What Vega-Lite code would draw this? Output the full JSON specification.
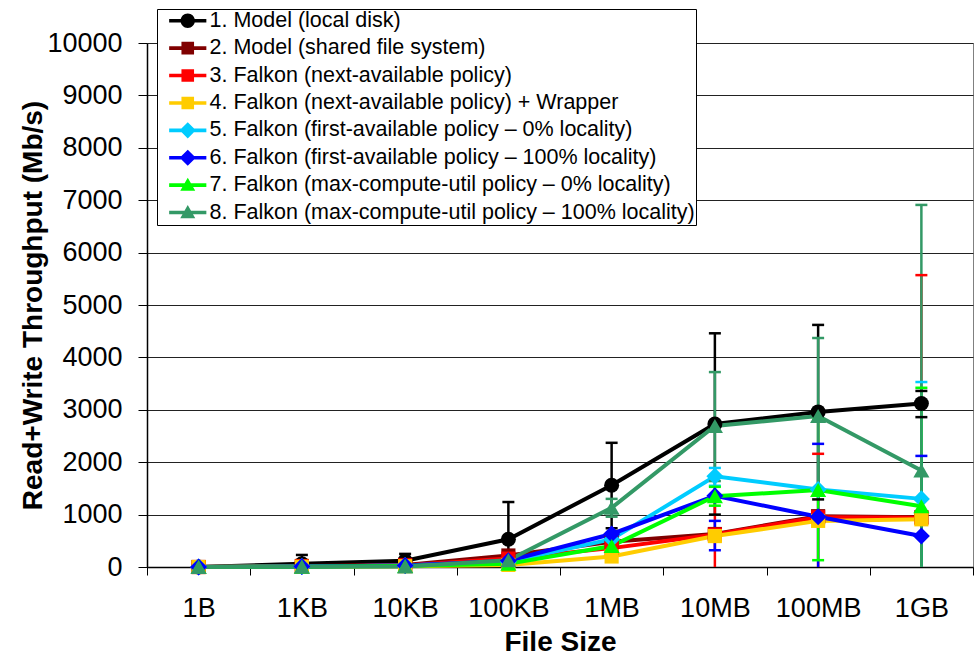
{
  "$schema": "https://vega.github.io/schema/vega-lite/v6.json",
  "width": 826,
  "height": 524,
  "autosize": {"type": "none"},
  "padding": {"left": 147, "top": 43, "right": 4, "bottom": 88},
  "background": "#ffffff",
  "config": {
    "font": "Liberation Sans",
    "view": {"stroke": "#808080", "strokeWidth": 1},
    "axis": {"domainColor": "#000000", "tickColor": "#000000", "labelColor": "#000000", "titleColor": "#000000", "labelFont": "Liberation Sans", "titleFont": "Liberation Sans"}
  },
  "datasets": {
    "pts": [
      {"series": "1. Model (local disk)", "size": "1B", "v": 0},
      {"series": "1. Model (local disk)", "size": "1KB", "v": 60},
      {"series": "1. Model (local disk)", "size": "10KB", "v": 120},
      {"series": "1. Model (local disk)", "size": "100KB", "v": 530},
      {"series": "1. Model (local disk)", "size": "1MB", "v": 1560},
      {"series": "1. Model (local disk)", "size": "10MB", "v": 2730},
      {"series": "1. Model (local disk)", "size": "100MB", "v": 2960},
      {"series": "1. Model (local disk)", "size": "1GB", "v": 3120},
      {"series": "2. Model (shared file system)", "size": "1B", "v": 0},
      {"series": "2. Model (shared file system)", "size": "1KB", "v": 20},
      {"series": "2. Model (shared file system)", "size": "10KB", "v": 40},
      {"series": "2. Model (shared file system)", "size": "100KB", "v": 220},
      {"series": "2. Model (shared file system)", "size": "1MB", "v": 480},
      {"series": "2. Model (shared file system)", "size": "10MB", "v": 630},
      {"series": "2. Model (shared file system)", "size": "100MB", "v": 970},
      {"series": "2. Model (shared file system)", "size": "1GB", "v": 950},
      {"series": "3. Falkon (next-available policy)", "size": "1B", "v": 0},
      {"series": "3. Falkon (next-available policy)", "size": "1KB", "v": 15},
      {"series": "3. Falkon (next-available policy)", "size": "10KB", "v": 30},
      {"series": "3. Falkon (next-available policy)", "size": "100KB", "v": 160},
      {"series": "3. Falkon (next-available policy)", "size": "1MB", "v": 360},
      {"series": "3. Falkon (next-available policy)", "size": "10MB", "v": 620},
      {"series": "3. Falkon (next-available policy)", "size": "100MB", "v": 950},
      {"series": "3. Falkon (next-available policy)", "size": "1GB", "v": 940},
      {"series": "4. Falkon (next-available policy) + Wrapper", "size": "1B", "v": 0},
      {"series": "4. Falkon (next-available policy) + Wrapper", "size": "1KB", "v": 5},
      {"series": "4. Falkon (next-available policy) + Wrapper", "size": "10KB", "v": 15},
      {"series": "4. Falkon (next-available policy) + Wrapper", "size": "100KB", "v": 40},
      {"series": "4. Falkon (next-available policy) + Wrapper", "size": "1MB", "v": 200},
      {"series": "4. Falkon (next-available policy) + Wrapper", "size": "10MB", "v": 590},
      {"series": "4. Falkon (next-available policy) + Wrapper", "size": "100MB", "v": 880},
      {"series": "4. Falkon (next-available policy) + Wrapper", "size": "1GB", "v": 910},
      {"series": "5. Falkon (first-available policy – 0% locality)", "size": "1B", "v": 0},
      {"series": "5. Falkon (first-available policy – 0% locality)", "size": "1KB", "v": 10},
      {"series": "5. Falkon (first-available policy – 0% locality)", "size": "10KB", "v": 30},
      {"series": "5. Falkon (first-available policy – 0% locality)", "size": "100KB", "v": 100},
      {"series": "5. Falkon (first-available policy – 0% locality)", "size": "1MB", "v": 530},
      {"series": "5. Falkon (first-available policy – 0% locality)", "size": "10MB", "v": 1730},
      {"series": "5. Falkon (first-available policy – 0% locality)", "size": "100MB", "v": 1480},
      {"series": "5. Falkon (first-available policy – 0% locality)", "size": "1GB", "v": 1300},
      {"series": "6. Falkon (first-available policy – 100% locality)", "size": "1B", "v": 0},
      {"series": "6. Falkon (first-available policy – 100% locality)", "size": "1KB", "v": 10},
      {"series": "6. Falkon (first-available policy – 100% locality)", "size": "10KB", "v": 30},
      {"series": "6. Falkon (first-available policy – 100% locality)", "size": "100KB", "v": 120},
      {"series": "6. Falkon (first-available policy – 100% locality)", "size": "1MB", "v": 630},
      {"series": "6. Falkon (first-available policy – 100% locality)", "size": "10MB", "v": 1360},
      {"series": "6. Falkon (first-available policy – 100% locality)", "size": "100MB", "v": 960},
      {"series": "6. Falkon (first-available policy – 100% locality)", "size": "1GB", "v": 590},
      {"series": "7. Falkon (max-compute-util policy – 0% locality)", "size": "1B", "v": 0},
      {"series": "7. Falkon (max-compute-util policy – 0% locality)", "size": "1KB", "v": 5},
      {"series": "7. Falkon (max-compute-util policy – 0% locality)", "size": "10KB", "v": 20},
      {"series": "7. Falkon (max-compute-util policy – 0% locality)", "size": "100KB", "v": 60},
      {"series": "7. Falkon (max-compute-util policy – 0% locality)", "size": "1MB", "v": 400},
      {"series": "7. Falkon (max-compute-util policy – 0% locality)", "size": "10MB", "v": 1350},
      {"series": "7. Falkon (max-compute-util policy – 0% locality)", "size": "100MB", "v": 1470},
      {"series": "7. Falkon (max-compute-util policy – 0% locality)", "size": "1GB", "v": 1160},
      {"series": "8. Falkon (max-compute-util policy – 100% locality)", "size": "1B", "v": 0},
      {"series": "8. Falkon (max-compute-util policy – 100% locality)", "size": "1KB", "v": 5},
      {"series": "8. Falkon (max-compute-util policy – 100% locality)", "size": "10KB", "v": 10},
      {"series": "8. Falkon (max-compute-util policy – 100% locality)", "size": "100KB", "v": 130},
      {"series": "8. Falkon (max-compute-util policy – 100% locality)", "size": "1MB", "v": 1130},
      {"series": "8. Falkon (max-compute-util policy – 100% locality)", "size": "10MB", "v": 2690},
      {"series": "8. Falkon (max-compute-util policy – 100% locality)", "size": "100MB", "v": 2880},
      {"series": "8. Falkon (max-compute-util policy – 100% locality)", "size": "1GB", "v": 1840}
    ],
    "errs": [
      {"series": "1. Model (local disk)", "size": "1KB", "lo": -50, "hi": 230},
      {"series": "1. Model (local disk)", "size": "10KB", "lo": -10, "hi": 250},
      {"series": "1. Model (local disk)", "size": "100KB", "lo": -180, "hi": 1240},
      {"series": "1. Model (local disk)", "size": "1MB", "lo": 740, "hi": 2370},
      {"series": "1. Model (local disk)", "size": "10MB", "lo": 1000, "hi": 4460},
      {"series": "1. Model (local disk)", "size": "100MB", "lo": 1290, "hi": 4620},
      {"series": "1. Model (local disk)", "size": "1GB", "lo": 2860, "hi": 3360},
      {"series": "3. Falkon (next-available policy)", "size": "10MB", "lo": -110, "hi": 1350},
      {"series": "3. Falkon (next-available policy)", "size": "100MB", "lo": -280, "hi": 2160},
      {"series": "3. Falkon (next-available policy)", "size": "1GB", "lo": -3700, "hi": 5570},
      {"series": "5. Falkon (first-available policy – 0% locality)", "size": "10MB", "lo": 1550, "hi": 1890},
      {"series": "5. Falkon (first-available policy – 0% locality)", "size": "1GB", "lo": -930, "hi": 3530},
      {"series": "6. Falkon (first-available policy – 100% locality)", "size": "10MB", "lo": 320, "hi": 880},
      {"series": "6. Falkon (first-available policy – 100% locality)", "size": "100MB", "lo": -450, "hi": 2350},
      {"series": "6. Falkon (first-available policy – 100% locality)", "size": "1GB", "lo": -920, "hi": 2120},
      {"series": "7. Falkon (max-compute-util policy – 0% locality)", "size": "10MB", "lo": 1170, "hi": 1530},
      {"series": "7. Falkon (max-compute-util policy – 0% locality)", "size": "100MB", "lo": 130, "hi": 2810},
      {"series": "7. Falkon (max-compute-util policy – 0% locality)", "size": "1GB", "lo": -1060, "hi": 3420},
      {"series": "8. Falkon (max-compute-util policy – 100% locality)", "size": "1MB", "lo": 960, "hi": 1300},
      {"series": "8. Falkon (max-compute-util policy – 100% locality)", "size": "10MB", "lo": 1640, "hi": 3720},
      {"series": "8. Falkon (max-compute-util policy – 100% locality)", "size": "100MB", "lo": 1370, "hi": 4370},
      {"series": "8. Falkon (max-compute-util policy – 100% locality)", "size": "1GB", "lo": -3210, "hi": 6910}
    ]
  },
  "encoding": {
    "x": {
      "field": "size", "type": "nominal",
      "scale": {"type": "band", "domain": ["1B", "1KB", "10KB", "100KB", "1MB", "10MB", "100MB", "1GB"], "paddingInner": 0, "paddingOuter": 0},
      "axis": {"title": "File Size", "titleFontSize": 28, "titleFontWeight": "bold", "titleBaseline": "alphabetic", "titleY": 83, "labelAngle": 0, "labelFontSize": 27, "labelPadding": 20, "tickSize": 8, "tickBand": "extent", "grid": false, "domainWidth": 1.5}
    },
    "color": {
      "field": "series", "type": "nominal",
      "scale": {
        "domain": ["1. Model (local disk)", "2. Model (shared file system)", "3. Falkon (next-available policy)", "4. Falkon (next-available policy) + Wrapper", "5. Falkon (first-available policy – 0% locality)", "6. Falkon (first-available policy – 100% locality)", "7. Falkon (max-compute-util policy – 0% locality)", "8. Falkon (max-compute-util policy – 100% locality)"],
        "range": ["#000000", "#800000", "#ff0000", "#ffcc00", "#00ccff", "#0000ff", "#00ff00", "#339966"]
      }
    }
  },
  "layer": [
    {
      "data": {"name": "pts"},
      "transform": [{"filter": {"field": "size", "equal": "1B"}}],
      "mark": {"type": "point", "filled": true, "opacity": 0},
      "encoding": {
        "y": {"field": "v", "type": "quantitative"},
        "shape": {
          "field": "series", "type": "nominal",
          "scale": {
            "domain": ["1. Model (local disk)", "2. Model (shared file system)", "3. Falkon (next-available policy)", "4. Falkon (next-available policy) + Wrapper", "5. Falkon (first-available policy – 0% locality)", "6. Falkon (first-available policy – 100% locality)", "7. Falkon (max-compute-util policy – 0% locality)", "8. Falkon (max-compute-util policy – 100% locality)"],
            "range": [
              "M-3.1,-0.3H3.1V0.3H-3.1Z M1.2,0A1.2,1.2 0 1 1 -1.2,0A1.2,1.2 0 1 1 1.2,0Z",
              "M-3.1,-0.3H3.1V0.3H-3.1Z M-1.05,-1.05H1.05V1.05H-1.05Z",
              "M-3.1,-0.3H3.1V0.3H-3.1Z M-1.05,-1.05H1.05V1.05H-1.05Z",
              "M-3.1,-0.3H3.1V0.3H-3.1Z M-1.05,-1.05H1.05V1.05H-1.05Z",
              "M-3.1,-0.3H3.1V0.3H-3.1Z M0,-1.35L1.35,0L0,1.35L-1.35,0Z",
              "M-3.1,-0.3H3.1V0.3H-3.1Z M0,-1.35L1.35,0L0,1.35L-1.35,0Z",
              "M-3.1,-0.3H3.1V0.3H-3.1Z M0,-1.25L1.25,0.95H-1.25Z",
              "M-3.1,-0.3H3.1V0.3H-3.1Z M0,-1.25L1.25,0.95H-1.25Z"
            ]
          },
          "legend": {
            "title": null,
            "orient": "none",
            "legendX": 10,
            "legendY": -34,
            "labelFontSize": 21.5,
            "labelFont": "Liberation Sans",
            "labelColor": "#000000",
            "labelLimit": 700,
            "symbolSize": 144,
            "symbolStrokeWidth": 0,
            "strokeColor": "#000000",
            "fillColor": "#ffffff",
            "padding": 1,
            "rowPadding": 4.4,
            "symbolOffset": 19,
            "labelOffset": 11,
            "encode": {
              "symbols": {
                "update": {
                  "shape": {"scale": "shape", "field": "value"},
                  "fill": {"scale": "color", "field": "value"},
                  "stroke": {"value": "transparent"},
                  "strokeWidth": {"value": 0},
                  "opacity": {"value": 1}
                }
              }
            }
          }
        }
      }
    },
    {
      "data": {"name": "pts"},
      "mark": {"type": "line", "strokeWidth": 4},
      "encoding": {
        "y": {
          "field": "v", "type": "quantitative",
          "scale": {"domain": [0, 10000], "nice": false, "zero": true},
          "axis": {"title": "Read+Write Throughput (Mb/s)", "format": "d", "titleFontSize": 28, "titleFontWeight": "bold", "titleBaseline": "alphabetic", "titleX": -106, "titleY": 262, "titleAngle": -90, "values": [0, 1000, 2000, 3000, 4000, 5000, 6000, 7000, 8000, 9000, 10000], "labelFontSize": 27, "labelPadding": 16, "tickSize": 9, "grid": true, "gridColor": "#222222", "gridWidth": 1, "domainWidth": 1.5}
        }
      }
    },
    {
      "data": {"name": "errs"},
      "mark": {"type": "rule", "strokeWidth": 2.5, "clip": true},
      "encoding": {
        "y": {"field": "lo", "type": "quantitative"},
        "y2": {"field": "hi"}
      }
    },
    {
      "data": {"name": "errs"},
      "mark": {"type": "tick", "size": 12, "thickness": 2.5, "orient": "horizontal", "clip": true, "opacity": 1},
      "encoding": {
        "y": {"field": "lo", "type": "quantitative"}
      }
    },
    {
      "data": {"name": "errs"},
      "mark": {"type": "tick", "size": 12, "thickness": 2.5, "orient": "horizontal", "clip": true, "opacity": 1},
      "encoding": {
        "y": {"field": "hi", "type": "quantitative"}
      }
    },
    {
      "data": {"name": "pts"},
      "transform": [{"filter": {"field": "series", "oneOf": ["1. Model (local disk)"]}}],
      "mark": {"type": "point", "shape": "circle", "filled": true, "size": 225, "opacity": 1},
      "encoding": {"y": {"field": "v", "type": "quantitative"}}
    },
    {
      "data": {"name": "pts"},
      "transform": [{"filter": {"field": "series", "oneOf": ["2. Model (shared file system)", "3. Falkon (next-available policy)", "4. Falkon (next-available policy) + Wrapper"]}}],
      "mark": {"type": "point", "shape": "square", "filled": true, "size": 200, "opacity": 1},
      "encoding": {"y": {"field": "v", "type": "quantitative"}}
    },
    {
      "data": {"name": "pts"},
      "transform": [{"filter": {"field": "series", "oneOf": ["5. Falkon (first-available policy – 0% locality)", "6. Falkon (first-available policy – 100% locality)"]}}],
      "mark": {"type": "point", "shape": "diamond", "filled": true, "size": 290, "opacity": 1},
      "encoding": {"y": {"field": "v", "type": "quantitative"}}
    },
    {
      "data": {"name": "pts"},
      "transform": [{"filter": {"field": "series", "oneOf": ["7. Falkon (max-compute-util policy – 0% locality)", "8. Falkon (max-compute-util policy – 100% locality)"]}}],
      "mark": {"type": "point", "shape": "triangle-up", "filled": true, "size": 260, "opacity": 1},
      "encoding": {"y": {"field": "v", "type": "quantitative"}}
    }
  ]
}
